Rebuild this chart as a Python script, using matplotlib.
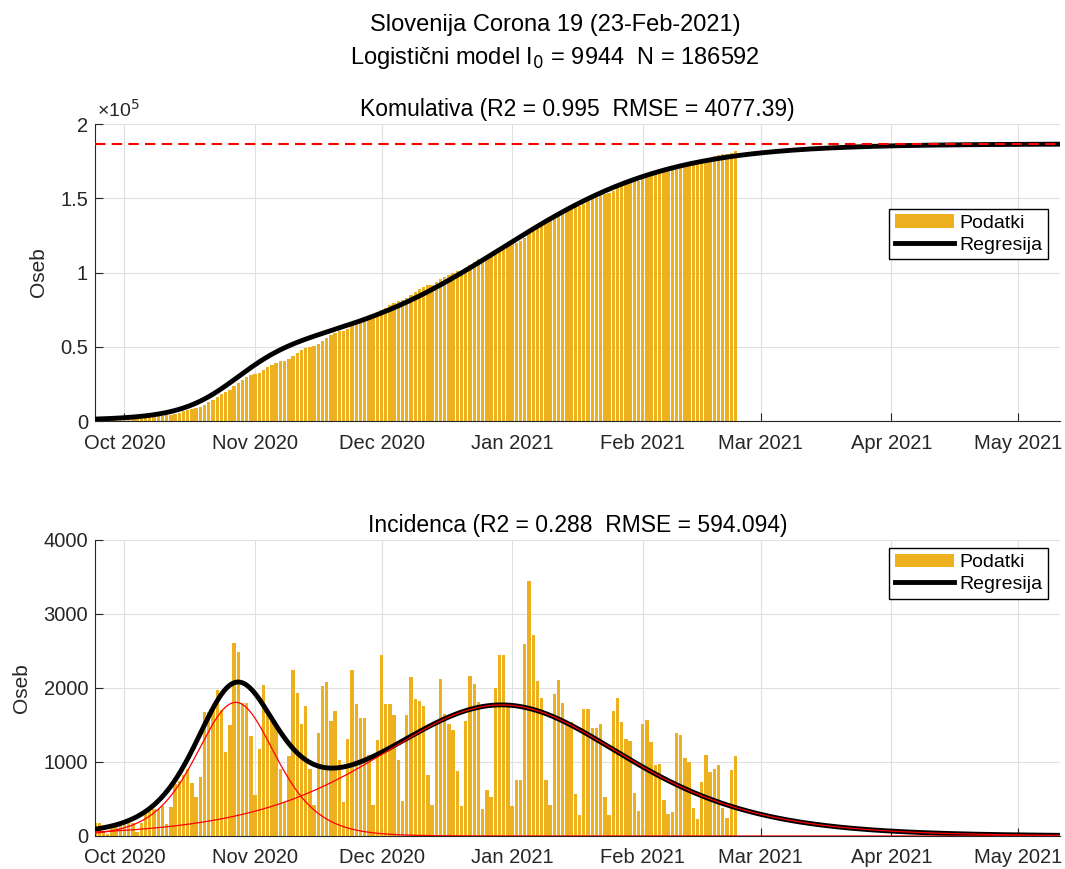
import numpy as np
import pandas as pd
import matplotlib
matplotlib.use('Agg')
import matplotlib.pyplot as plt
import matplotlib.dates as mdates
from matplotlib.ticker import FuncFormatter, MultipleLocator

plt.rcParams['font.family'] = ['Liberation Sans', 'DejaVu Sans']

# daily new cases, 24-Sep-2020 .. 23-Feb-2021
start_date = '2020-09-24'
daily_cases = [
    171, 171, 59, 27, 126, 180, 171, 216, 225, 171,
    59, 180, 338, 383, 360, 360, 405, 162, 396, 703,
    748, 824, 900, 720, 531, 802, 1670, 1680, 1730, 1970,
    1700, 1130, 1500, 2610, 2490, 1800, 1800, 1350, 550, 1180,
    2040, 1700, 1570, 1510, 900, 460, 1080, 2240, 1930, 1520,
    1750, 910, 420, 1390, 2030, 2080, 1550, 1690, 1030, 460,
    1310, 2240, 1780, 1600, 1600, 1100, 420, 1300, 2440, 1780,
    1790, 1640, 1030, 470, 1630, 2150, 1850, 1820, 1760, 820,
    420, 1540, 2120, 1650, 1510, 1430, 880, 400, 1550, 2160,
    2060, 1810, 370, 620, 530, 2000, 2440, 2440, 1780, 400,
    760, 760, 2600, 3440, 2720, 2090, 1860, 760, 420, 1920,
    2110, 1800, 1500, 1540, 570, 285, 1710, 1710, 1455, 1455,
    1520, 525, 285, 1690, 1870, 1535, 1305, 1290, 577, 340,
    1515, 1570, 1270, 960, 975, 485, 300, 325, 1390, 1365,
    1055, 1000, 380, 230, 730, 1095, 860, 905, 960, 375,
    245, 890, 1080,
]
end_date = '2021-05-11'

# logistic model: N and two waves (K, rate, midpoint day from start)
N = 186592
I0 = 9944
K1, r1, t1 = 46000, 0.157, 33.4
K2, r2, t2 = N - K1, 0.0504, 96.5

titles = ['Slovenija Corona 19 (23-Feb-2021)',
          'Logistični model I$_0$ = 9944  N = 186592']
title_cum = 'Komulativa (R2 = 0.995  RMSE = 4077.39)'
title_inc = 'Incidenca (R2 = 0.288  RMSE = 594.094)'

bar_color = '#EDB120'
axis_color = '#262626'

dates = pd.date_range(start_date, periods=len(daily_cases))
cumulative = np.cumsum(daily_cases)

t0 = pd.Timestamp(start_date)
t_end = pd.Timestamp(end_date)
n_days = (t_end - t0).days
t = np.linspace(0, n_days, 1200)
t_dates = t0 + pd.to_timedelta(t, unit='D')


def logistic(t, K, r, tm):
    return K / (1 + np.exp(-r * (t - tm)))


def logistic_rate(t, K, r, tm):
    e = np.exp(-r * (t - tm))
    return K * r * e / (1 + e) ** 2


cum_fit = logistic(t, K1, r1, t1) + logistic(t, K2, r2, t2)
inc1 = logistic_rate(t, K1, r1, t1)
inc2 = logistic_rate(t, K2, r2, t2)
inc_fit = inc1 + inc2

fig = plt.figure(figsize=(10.65, 8.69), dpi=100)
ax1 = fig.add_axes([0.0892, 0.5155, 0.906, 0.3418])
ax2 = fig.add_axes([0.0892, 0.038, 0.906, 0.3406])

fig.text(0.521, 0.971, titles[0], ha='center', va='center', fontsize=17, color='black')
fig.text(0.521, 0.933, titles[1], ha='center', va='center', fontsize=17, color='black')

leg_kw = dict(loc='upper right', fontsize=14, fancybox=False, edgecolor='black',
              framealpha=1, handlelength=3.0, borderpad=0.3, labelspacing=0.2,
              handletextpad=0.3, borderaxespad=0)

# top: cumulative
b1 = ax1.bar(dates, cumulative, width=0.8, color=bar_color, zorder=2)
l1, = ax1.plot(t_dates, cum_fit, color='black', lw=3.5, zorder=3)
ax1.axhline(N, color='red', ls=(0, (5, 3)), lw=1.5, zorder=4)
ax1.set_ylim(0, 2e5)
ax1.yaxis.set_major_locator(MultipleLocator(0.5e5))
ax1.yaxis.set_major_formatter(FuncFormatter(lambda v, p: ('%g' % (v / 1e5))))
ax1.text(0.002, 1.01, '×10$^{5}$', transform=ax1.transAxes, ha='left', va='bottom',
         fontsize=14, color=axis_color)
ax1.set_title(title_cum, fontsize=16.5, pad=6)
ax1.legend([b1, l1], ['Podatki', 'Regresija'], bbox_to_anchor=(0.988, 0.715), **leg_kw)

# bottom: incidence
b2 = ax2.bar(dates, daily_cases, width=0.8, color=bar_color, zorder=2)
l2, = ax2.plot(t_dates, inc_fit, color='black', lw=3.5, zorder=3)
ax2.plot(t_dates, inc1, color='red', lw=0.9, zorder=4)
ax2.plot(t_dates, inc2, color='red', lw=0.9, zorder=4)
ax2.set_ylim(0, 4000)
ax2.yaxis.set_major_locator(MultipleLocator(1000))
ax2.set_title(title_inc, fontsize=16.5, pad=6)
ax2.legend([b2, l2], ['Podatki', 'Regresija'], bbox_to_anchor=(0.988, 0.973), **leg_kw)

for ax in (ax1, ax2):
    ax.set_xlim(t0, t_end)
    ax.xaxis.set_major_locator(mdates.MonthLocator())
    ax.xaxis.set_major_formatter(mdates.DateFormatter('%b %Y'))
    ax.set_ylabel('Oseb', fontsize=15, color=axis_color, labelpad=9)
    ax.grid(True, color='#e0e0e0', lw=0.8, zorder=0)
    ax.set_axisbelow(True)
    for s in ('top', 'right'):
        ax.spines[s].set_visible(False)
    for s in ('left', 'bottom'):
        ax.spines[s].set_color(axis_color)
        ax.spines[s].set_linewidth(0.8)
    ax.tick_params(direction='in', length=6, labelsize=14.5, colors=axis_color)
    ax.tick_params(axis='x', pad=9)
    ax.tick_params(axis='y', pad=5)

fig.savefig('out.png', dpi=100)
